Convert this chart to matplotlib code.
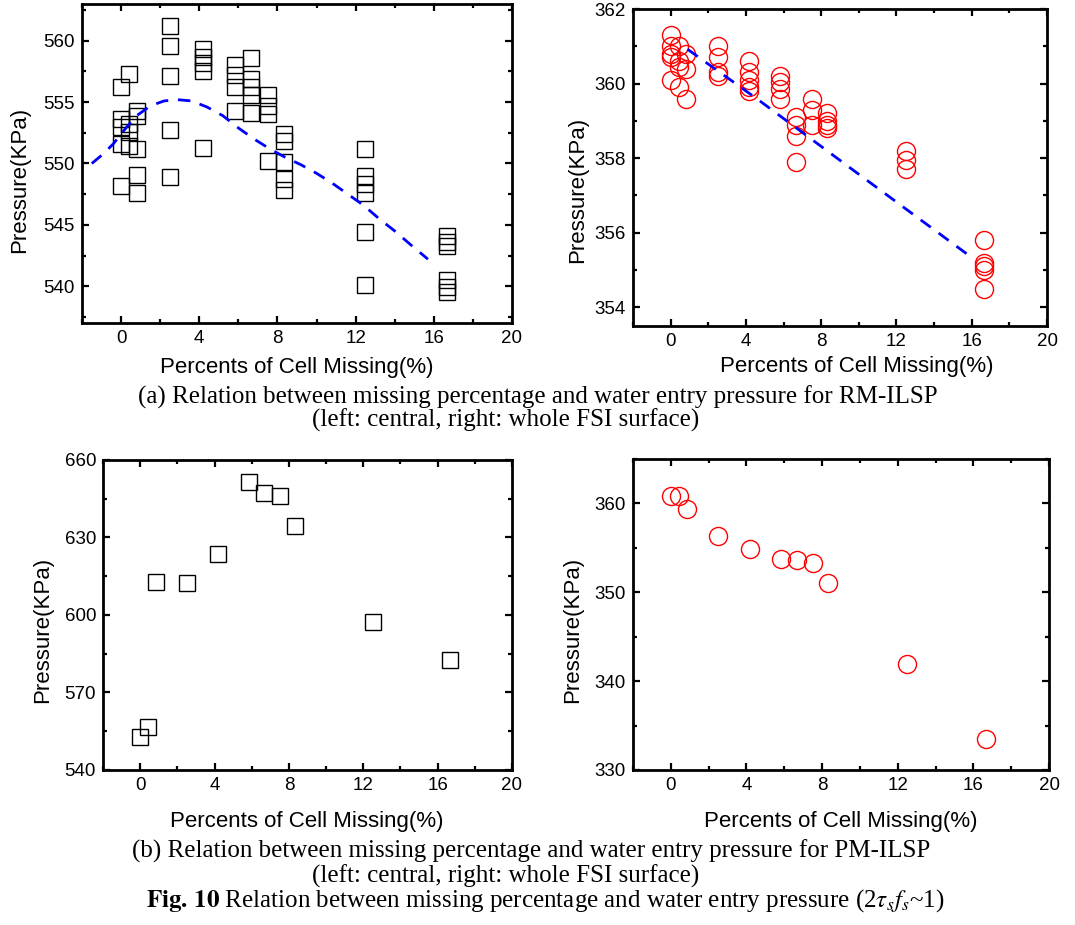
import matplotlib
matplotlib.use("Agg")
import matplotlib.pyplot as plt
from matplotlib.ticker import MultipleLocator

# ---------------- data ----------------
# (a) left: central surface, RM-ILSP (groups of repeated runs per missing %)
x_groups = [0.0, 0.42, 0.83, 2.5, 4.17, 5.83, 6.67, 7.5, 8.33, 12.5, 16.67]
a_left_groups = [
    [556.2, 553.6, 553.0, 551.6, 548.2],
    [557.3, 553.2, 552.6, 551.4],
    [554.3, 553.9, 551.2, 549.1, 547.6],
    [561.2, 559.6, 557.1, 552.7, 548.9],
    [559.3, 558.7, 558.2, 557.5, 551.3],
    [558.0, 557.2, 556.2, 554.3],
    [558.6, 556.9, 556.2, 555.6, 554.1],
    [555.6, 554.7, 554.0, 550.2],
    [552.4, 551.8, 550.1, 548.7, 547.8],
    [551.2, 549.0, 548.3, 547.6, 544.4, 540.1],
    [544.1, 543.6, 543.3, 540.5, 539.9, 539.5],
]
a_left_fit_x = [-1.5, -0.9, -0.4, 0.3, 0.8, 1.5, 2.2, 2.9, 3.6, 4.4, 5.2, 6.0,
                6.8, 7.6, 8.4, 9.2, 10.0, 10.8, 11.6, 12.4, 13.2, 14.0, 14.8, 15.7]
a_left_fit_y = [550.0, 550.8, 551.6, 553.0, 553.9, 554.7, 555.1, 555.2, 555.1,
                554.6, 553.9, 552.9, 552.0, 551.2, 550.5, 549.9, 549.2, 548.4,
                547.5, 546.6, 545.5, 544.5, 543.4, 542.2]

# (a) right: whole FSI surface, RM-ILSP
a_right_groups = [
    [361.3, 361.0, 360.8, 360.7, 360.1],
    [361.0, 360.6, 360.45, 359.9],
    [360.8, 360.4, 359.6],
    [361.0, 360.7, 360.3, 360.2],
    [360.6, 360.3, 360.1, 359.9, 359.8],
    [360.2, 360.05, 359.85, 359.6],
    [359.1, 358.9, 358.6, 357.9],
    [359.6, 359.3, 358.9],
    [359.2, 359.0, 358.9, 358.8],
    [358.2, 357.95, 357.7],
    [355.8, 355.2, 355.1, 355.0, 354.5],
]
a_right_fit_x = [0.9, 4.7, 9.7, 16.1]
a_right_fit_y = [360.92, 359.55, 357.68, 355.3]

# (b) PM-ILSP
b_x = [0.0, 0.42, 0.83, 2.5, 4.17, 5.83, 6.67, 7.5, 8.33, 12.5, 16.67]
b_left_y = [552.6, 556.8, 612.8, 612.4, 623.6, 651.4, 647.1, 646.2, 634.5, 597.4, 582.5]
b_right_y = [360.83, 360.83, 359.4, 356.3, 354.9, 353.7, 353.6, 353.3, 351.1, 341.9, 333.5]

x_label = "Percents of Cell Missing(%)"
y_label = "Pressure(KPa)"
cap_a1 = "(a) Relation between missing percentage and water entry pressure for RM-ILSP"
cap_a2 = "(left: central, right: whole FSI surface)"
cap_b1 = "(b) Relation between missing percentage and water entry pressure for PM-ILSP"
cap_b2 = "(left: central, right: whole FSI surface)"
cap_fig = r"$\mathbf{Fig.\,10}$ Relation between missing percentage and water entry pressure (2$\tau_s f_s$~1)"

# ---------------- figure ----------------
plt.rcParams['font.family'] = ['Liberation Sans', 'DejaVu Sans']
plt.rcParams['mathtext.fontset'] = 'stix'

W, H = 1075, 925
fig = plt.figure(figsize=(W / 100, H / 100), dpi=100)


def px_axes(l, r, t, b):
    return fig.add_axes([l / W, 1 - b / H, (r - l) / W, (b - t) / H])


def style(ax, ylim, ymaj, ymin):
    ax.set_xlim(-2, 20)
    ax.set_ylim(*ylim)
    ax.xaxis.set_major_locator(MultipleLocator(4))
    ax.xaxis.set_minor_locator(MultipleLocator(2))
    ax.yaxis.set_major_locator(MultipleLocator(ymaj))
    ax.yaxis.set_minor_locator(MultipleLocator(ymin))
    ax.tick_params(which='both', direction='in', top=True, right=True,
                   labeltop=False, labelright=False, width=1.6)
    ax.tick_params(which='major', length=5, labelsize=13.5, pad=5)
    ax.tick_params(which='minor', length=3)
    for s in ax.spines.values():
        s.set_linewidth(2.0)


def flatten(xs, groups):
    fx, fy = [], []
    for x, g in zip(xs, groups):
        for v in g:
            fx.append(x)
            fy.append(v)
    return fx, fy


ax1 = px_axes(82, 512, 4, 323)
ax2 = px_axes(633, 1047, 9, 326)
ax3 = px_axes(103, 512, 460, 770)
ax4 = px_axes(633, 1049, 459, 770)

sq = dict(marker='s', ms=11.5, mfc='none', mec='black', mew=1.0, ls='none')
ci = dict(marker='o', ms=13, mfc='none', mec='#ff0000', mew=1.0, ls='none')
dash = dict(color='#0000ff', lw=2.0, ls=(0, (4.5, 3.5)))

fx, fy = flatten(x_groups, a_left_groups)
ax1.plot(fx, fy, **sq)
ax1.plot(a_left_fit_x, a_left_fit_y, **dash)
style(ax1, (537, 563), 5, 2.5)

fx, fy = flatten(x_groups, a_right_groups)
ax2.plot(fx, fy, **ci)
ax2.plot(a_right_fit_x, a_right_fit_y, **dash)
style(ax2, (353.5, 362), 2, 1)

ax3.plot(b_x, b_left_y, **sq)
style(ax3, (540, 660), 30, 15)

ax4.plot(b_x, b_right_y, **ci)
style(ax4, (330, 365), 10, 5)

# axis labels
lab = dict(fontsize=16)
fig.text(20 / W, 1 - 180 / H, y_label, rotation=90, ha='center', va='center', **lab)
fig.text(578 / W, 1 - 190 / H, y_label, rotation=90, ha='center', va='center', **lab)
fig.text(43 / W, 1 - 630 / H, y_label, rotation=90, ha='center', va='center', **lab)
fig.text(573 / W, 1 - 630 / H, y_label, rotation=90, ha='center', va='center', **lab)
fig.text(297 / W, 1 - 373 / H, x_label, ha='center', va='baseline', **lab)
fig.text(857 / W, 1 - 372 / H, x_label, ha='center', va='baseline', **lab)
fig.text(307 / W, 1 - 827 / H, x_label, ha='center', va='baseline', **lab)
fig.text(841 / W, 1 - 827 / H, x_label, ha='center', va='baseline', **lab)

# captions
cap = dict(fontsize=18, family=['Liberation Serif', 'DejaVu Serif'], ha='center', va='center')
fig.text(538 / W, 1 - 397 / H, cap_a1, **cap)
fig.text(506 / W, 1 - 420 / H, cap_a2, **cap)
fig.text(531 / W, 1 - 851 / H, cap_b1, **cap)
fig.text(506 / W, 1 - 876 / H, cap_b2, **cap)
fig.text(545 / W, 1 - 901 / H, cap_fig, **cap)

fig.savefig("out.png", dpi=100)
